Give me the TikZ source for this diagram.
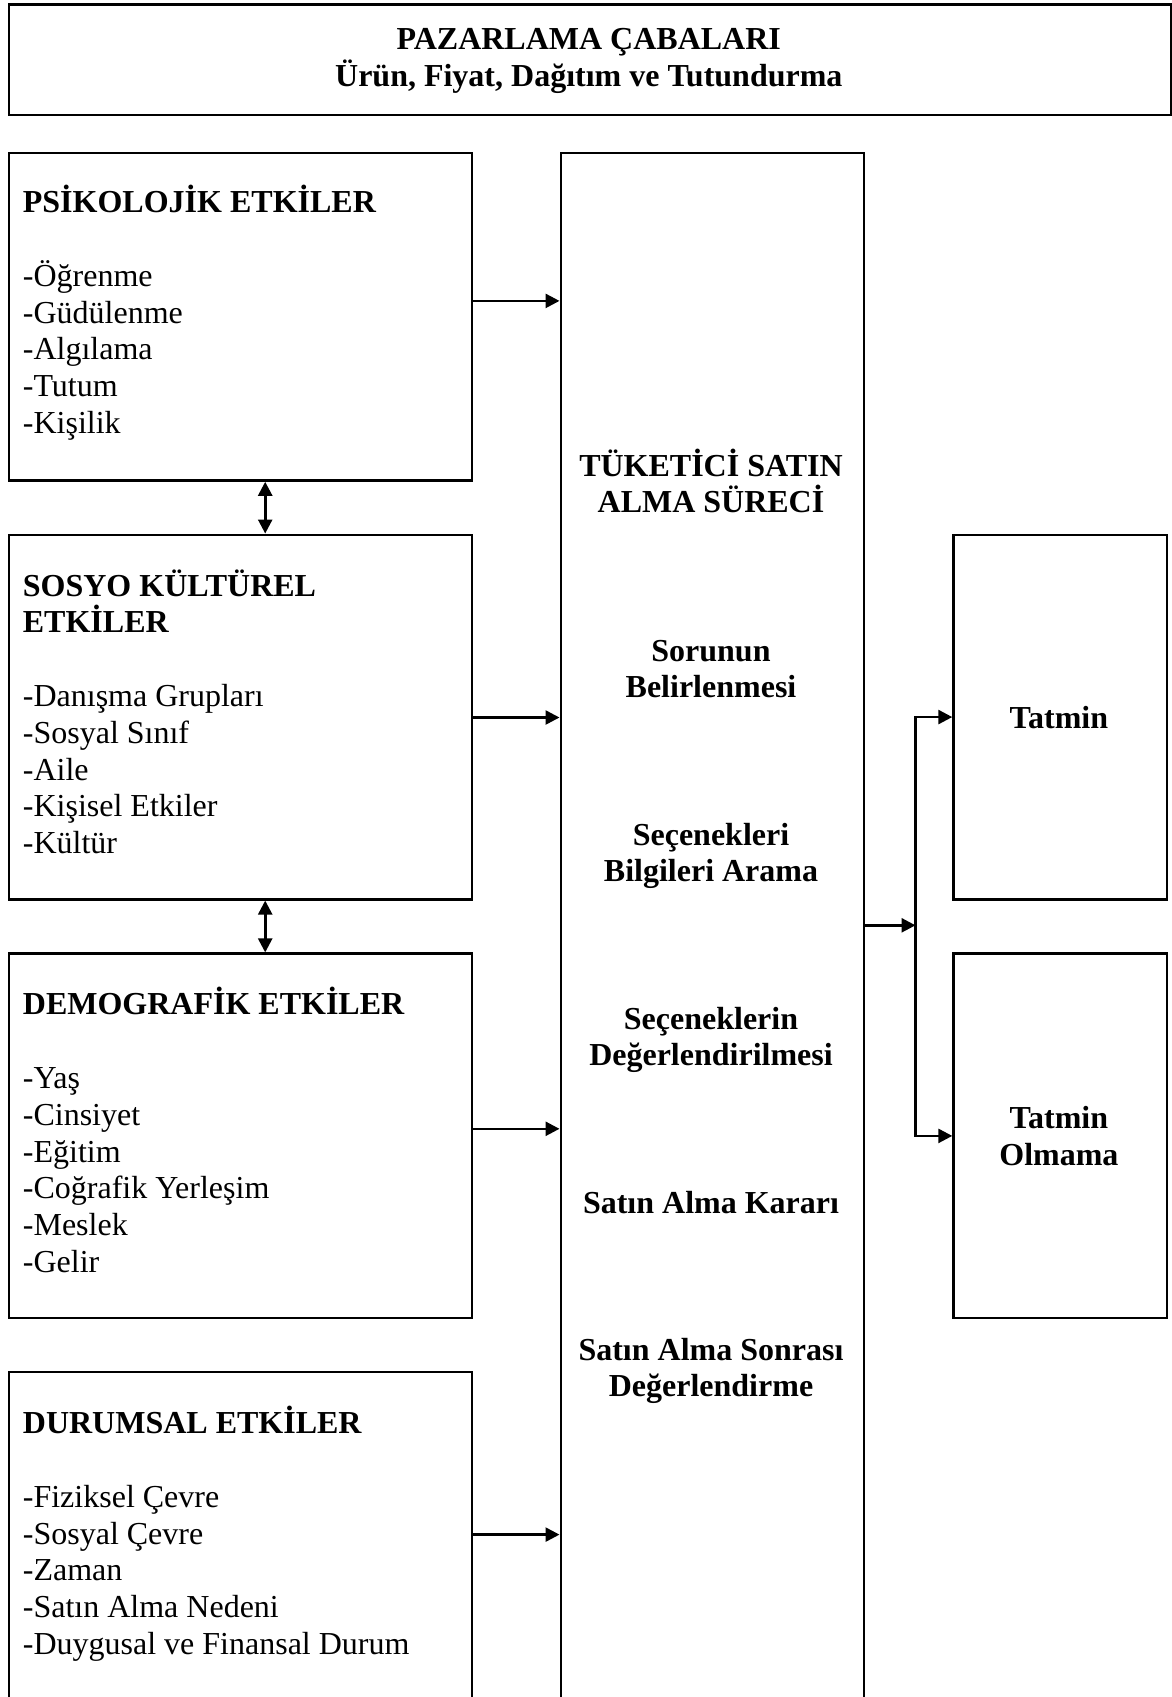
\documentclass[tikz,border=0pt]{standalone}
\usepackage{fontspec}
\setmainfont{Liberation Serif}
\usetikzlibrary{arrows.meta}

\begin{document}
\begin{tikzpicture}[x=1pt,y=-1pt,
  box/.style={draw, line width=2.4pt, anchor=north west, inner sep=0pt},
  txt/.style={inner sep=0pt, font=\fontsize{32}{36.8}\selectfont},
  txtb/.style={inner sep=0pt, font=\fontsize{32}{36.8}\selectfont\bfseries},
  arr/.style={line width=2.6pt, -{Triangle[length=14pt,width=14pt]}},
  darr/.style={line width=2.6pt, {Triangle[length=14pt,width=14pt]}-{Triangle[length=14pt,width=14pt]}}]
\clip (0,0) rectangle (1172,1697);

%Shape: Rectangle [pazarlama]
\node[box, minimum width=1162.4pt, minimum height=110.4pt] (pazar) at (7.6,3.2) {};
%Shape: Rectangle [left column]
\node[box, minimum width=463.2pt, minimum height=327.9pt] (psi) at (7.6,151.5) {};
\node[box, minimum width=463.2pt, minimum height=364.7pt] (sosyo) at (7.6,533.5) {};
\node[box, minimum width=463.2pt, minimum height=364.6pt] (demo) at (7.6,952.4) {};
\node[box, minimum width=463.2pt, minimum height=400pt] (durum) at (7.6,1371) {};
%Shape: Rectangle [surec]
\node[box, minimum width=303pt, minimum height=1600pt] (surec) at (559.5,151.5) {};
%Shape: Rectangle [right column]
\node[box, minimum width=213.2pt, minimum height=364.7pt] (tatmin) at (952.3,533.5) {};
\node[box, minimum width=213.2pt, minimum height=364.6pt] (olmama) at (952.3,952.4) {};

%Straight Lines [left to surec]
\coordinate (y1) at (0,300.9);
\coordinate (y2) at (0,717.5);
\coordinate (y3) at (0,1128.8);
\coordinate (y4) at (0,1534.6);
\draw[arr] (psi.east |- y1) -- (surec.west |- y1);
\draw[arr] (sosyo.east |- y2) -- (surec.west |- y2);
\draw[arr] (demo.east |- y3) -- (surec.west |- y3);
\draw[arr] (durum.east |- y4) -- (surec.west |- y4);
%Straight Lines [between left boxes]
\draw[darr] ([xshift=24.8pt]psi.south) -- ([xshift=24.8pt]sosyo.north);
\draw[darr] ([xshift=24.8pt]sosyo.south) -- ([xshift=24.8pt]demo.north);
%Straight Lines [surec to results]
\coordinate (split) at (915.5,925.3);
\draw[arr] (surec.east |- split) -- (split);
\draw[arr] (split) |- (tatmin.west);
\draw[arr] (split) |- (olmama.west);

% Text Node (base = last line)
\node[txtb, align=center, anchor=base] (pazarT) at (588.8,86.4) {PAZARLAMA ÇABALARI\\Ürün, Fiyat, Dağıtım ve Tutundurma};
% Text Node
\node[txt, align=left, anchor=base west] (psiT) at (22.7,433.4) {\textbf{PSİKOLOJİK ETKİLER}\\[36.8pt]-Öğrenme\\-Güdülenme\\-Algılama\\-Tutum\\-Kişilik};
% Text Node
\node[txt, align=left, anchor=base west] (sosyoT) at (22.7,853.7) {\textbf{SOSYO KÜLTÜREL}\\\textbf{ETKİLER}\\[36.8pt]-Danışma Grupları\\-Sosyal Sınıf\\-Aile\\-Kişisel Etkiler\\-Kültür};
% Text Node
\node[txt, align=left, anchor=base west] (demoT) at (22.7,1272.5) {\textbf{DEMOGRAFİK ETKİLER}\\[36.8pt]-Yaş\\-Cinsiyet\\-Eğitim\\-Coğrafik Yerleşim\\-Meslek\\-Gelir};
% Text Node
\node[txt, align=left, anchor=base west] (durumT) at (22.7,1654.5) {\textbf{DURUMSAL ETKİLER}\\[36.8pt]-Fiziksel Çevre\\-Sosyal Çevre\\-Zaman\\-Satın Alma Nedeni\\-Duygusal ve Finansal Durum};
% Text Node
\node[txtb, align=center, anchor=base] (surecT) at (711,512.8) {TÜKETİCİ SATIN\\ALMA SÜRECİ};
\node[txtb, align=center, anchor=base] (adim1) at (711,697.8) {Sorunun\\Belirlenmesi};
\node[txtb, align=center, anchor=base] (adim2) at (711,881.8) {Seçenekleri\\Bilgileri Arama};
\node[txtb, align=center, anchor=base] (adim3) at (711,1065.8) {Seçeneklerin\\Değerlendirilmesi};
\node[txtb, align=center, anchor=base] (adim4) at (711,1213) {Satın Alma Kararı};
\node[txtb, align=center, anchor=base] (adim5) at (711,1396.8) {Satın Alma Sonrası\\Değerlendirme};
% Text Node
\node[txtb, align=center, anchor=base] (tatminT) at (1058.9,728.1) {Tatmin};
\node[txtb, align=center, anchor=base] (olmamaT) at (1058.9,1165.3) {Tatmin\\Olmama};
\end{tikzpicture}
\end{document}
